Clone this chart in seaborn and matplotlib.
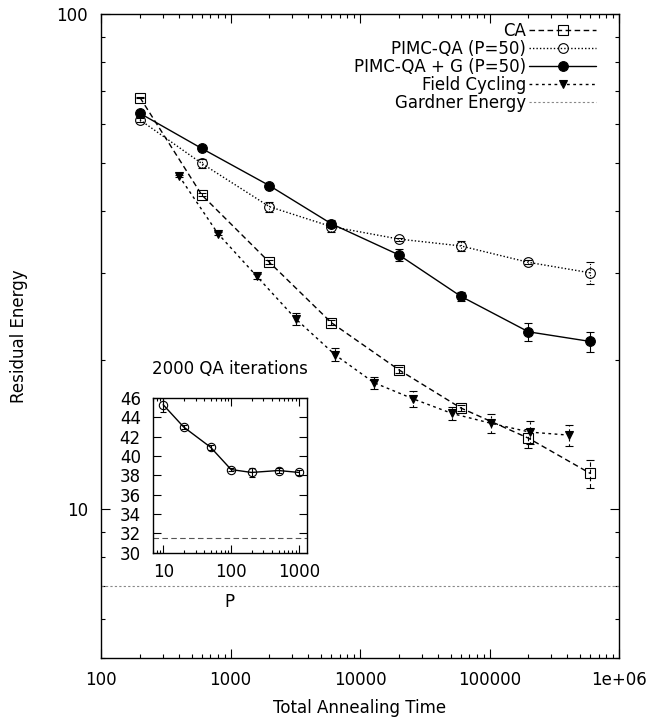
import matplotlib
matplotlib.use("Agg")
import matplotlib.pyplot as plt
import pandas as pd
import seaborn as sns
from matplotlib.ticker import NullFormatter, LogLocator

# values
anneal_time = [200, 600, 2000, 6000, 20000, 60000, 200000, 600000]
ca_energy = [67.8, 43.1, 31.5, 23.8, 19.1, 16.0, 13.9, 11.8]
ca_err = [0.3, 0.3, 0.3, 0.3, 0.25, 0.25, 0.6, 0.75]

qa_energy = [61.1, 49.9, 40.8, 37.2, 35.1, 34.0, 31.5, 30.0]
qa_err = [0.5, 1.1, 0.95, 0.85, 0.25, 0.8, 0.3, 1.5]

qag_energy = [63.0, 53.5, 45.0, 37.7, 32.6, 26.9, 22.8, 21.8]
qag_err = [0.3, 0.4, 0.4, 0.6, 0.9, 0.6, 1.0, 1.0]

fc_time = [400, 800, 1600, 3200, 6400, 12800, 25600, 51200, 102400, 204800, 409600]
fc_energy = [47.1, 36.0, 29.5, 24.2, 20.5, 18.0, 16.7, 15.6, 14.9, 14.3, 14.1]
fc_err = [0.2, 0.2, 0.4, 0.65, 0.6, 0.5, 0.6, 0.5, 0.65, 0.75, 0.7]

gardner_energy = 7.0

# inset: 2000 QA iterations vs P
p_values = [10, 20, 50, 100, 200, 500, 1000]
p_energy = [45.3, 43.0, 40.9, 38.6, 38.3, 38.5, 38.3]
p_err = [0.75, 0.25, 0.25, 0.2, 0.5, 0.25, 0.25]
inset_gardner = 31.5

x_ticks = [100, 1000, 10000, 100000, 1000000]
x_tick_labels = ["100", "1000", "10000", "100000", "1e+06"]
y_ticks = [10, 100]
y_tick_labels = ["10", "100"]
p_ticks = [10, 100, 1000]
p_tick_labels = ["10", "100", "1000"]
inset_y_ticks = list(range(30, 47, 2))

sns.set_style("ticks", {"xtick.direction": "in", "ytick.direction": "in",
                        "axes.edgecolor": "black", "text.color": "black",
                        "axes.labelcolor": "black", "xtick.color": "black",
                        "ytick.color": "black"})
plt.rcParams["font.family"] = ["DejaVu Sans"]
plt.rcParams["font.size"] = 12


def draw(ax, x, y, err, ls, marker, filled, ms, label=None, capsize=3):
    eb = ax.errorbar(x, y, yerr=err, fmt="none", ecolor="black",
                     elinewidth=0.8, capsize=capsize, capthick=0.8, zorder=2)
    eb[2][0].set_linestyle(ls)
    df = pd.DataFrame({"x": x, "y": y})
    sns.lineplot(data=df, x="x", y="y", ax=ax, color="black", linestyle=ls,
                 lw=1, marker=marker, markersize=ms,
                 markerfacecolor="black" if filled else "none",
                 markeredgecolor="black", markeredgewidth=0.8,
                 errorbar=None, label=label, zorder=3)


fig = plt.figure(figsize=(6.52, 7.21), dpi=100)
ax = fig.add_axes([101 / 652, 63 / 721, 518 / 652, 644 / 721])
ax.set_xscale("log")
ax.set_yscale("log")

draw(ax, anneal_time, ca_energy, ca_err, (0, (4, 2.5)), "s", False, 6.5, "CA")
draw(ax, anneal_time, qa_energy, qa_err, (0, (1, 1.5)), "o", False, 7, "PIMC-QA (P=50)")
draw(ax, anneal_time, qag_energy, qag_err, "-", "o", True, 7, "PIMC-QA + G (P=50)")
draw(ax, fc_time, fc_energy, fc_err, (0, (2, 2.5)), "v", True, 6, "Field Cycling")
ax.axhline(gardner_energy, color="#888888", lw=0.8, ls=(0, (2, 2)),
           label="Gardner Energy", zorder=1)

ax.set_xlim(100, 1e6)
ax.set_ylim(5, 100)
ax.set_xticks(x_ticks, labels=x_tick_labels)
ax.set_yticks(y_ticks, labels=y_tick_labels)
ax.xaxis.set_minor_locator(LogLocator(subs=range(2, 10)))
ax.yaxis.set_minor_locator(LogLocator(subs=range(2, 10)))
ax.xaxis.set_minor_formatter(NullFormatter())
ax.yaxis.set_minor_formatter(NullFormatter())
ax.tick_params(which="both", direction="in", top=True, right=True, width=0.8,
               color="black", labelcolor="black")
ax.tick_params(which="major", length=6.5, pad=9.5)
ax.tick_params(which="minor", length=3.2)
for s in ax.spines.values():
    s.set_linewidth(1.0)
    s.set_color("black")

ax.set_xlabel("Total Annealing Time", color="black")
ax.set_ylabel("Residual Energy", color="black")
ax.xaxis.set_label_coords(0.5, -0.063)
ax.yaxis.set_label_coords(-0.141, 0.5)

ax.legend(loc="upper right", bbox_to_anchor=(0.9556, 0.9876), frameon=False,
          markerfirst=False, handlelength=4, handletextpad=0.2,
          labelspacing=0, borderpad=0, borderaxespad=0, fontsize=12,
          numpoints=1, labelcolor="black")

# inset
ins = fig.add_axes([152.7 / 652, (721 - 552.7) / 721, 154 / 652, 154.7 / 721])
ins.set_facecolor("white")
ins.set_xscale("log")
draw(ins, p_values, p_energy, p_err, "-", "o", False, 6, capsize=2.5)
ins.axhline(inset_gardner, color="#555555", lw=0.8, ls=(0, (5, 3)), zorder=1)
ins.set_xlim(7, 1300)
ins.set_ylim(30, 46)
ins.set_xticks(p_ticks, labels=p_tick_labels)
ins.set_yticks(inset_y_ticks)
ins.xaxis.set_minor_locator(LogLocator(subs=range(2, 10)))
ins.xaxis.set_minor_formatter(NullFormatter())
ins.tick_params(which="both", direction="in", top=True, right=True, width=0.8,
                color="black", labelcolor="black")
ins.tick_params(which="major", length=5.5, pad=7.5)
ins.tick_params(axis="y", which="major", pad=8.6)
ins.tick_params(which="minor", length=2.5)
for s in ins.spines.values():
    s.set_linewidth(1.0)
    s.set_color("black")
ins.set_title("2000 QA iterations", pad=17, fontsize=12, color="black")
ins.set_xlabel("P", color="black")
ins.set_ylabel("")
ins.xaxis.set_label_coords(0.5, -0.262)

fig.savefig("out.png", dpi=100)
